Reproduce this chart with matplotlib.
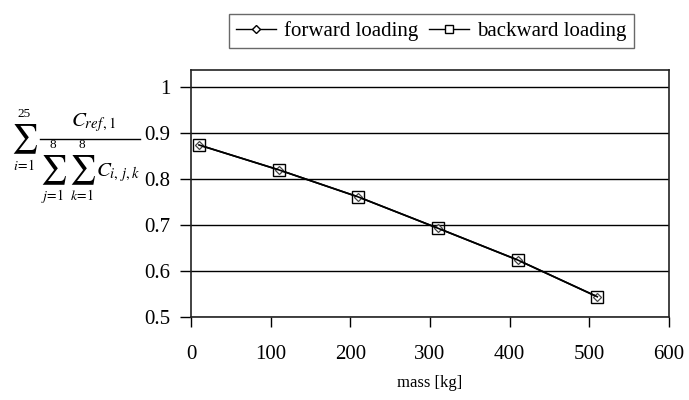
import matplotlib.pyplot as plt
from matplotlib.lines import Line2D

plt.rcParams['font.family'] = ['Liberation Serif', 'DejaVu Serif']
plt.rcParams['mathtext.fontset'] = 'stix'

# mass [kg]
mass = [10, 110, 210, 310, 410, 510]
# ratio for both loading directions (curves lie on top of each other)
forward = [0.874, 0.820, 0.761, 0.693, 0.624, 0.544]
backward = [0.874, 0.820, 0.761, 0.693, 0.624, 0.544]

xticks = [0, 100, 200, 300, 400, 500, 600]
yticks = [0.5, 0.6, 0.7, 0.8, 0.9, 1.0]
ytick_labels = ['0.5', '0.6', '0.7', '0.8', '0.9', '1']

W, H = 689, 400
fig = plt.figure(figsize=(W / 100, H / 100), dpi=100)
ax = fig.add_axes([0.2772, 0.2075, 0.6938, 0.6175])

ax.plot(mass, forward, color='black', lw=1.2, marker='D', ms=4.5,
        mfc='white', mec='#444444', mew=0.9, zorder=3)
ax.plot(mass, backward, color='black', lw=1.2, marker='s', ms=8,
        mfc='none', mec='black', mew=1.0, zorder=4)

ax.set_xlim(0, 600)
ax.set_ylim(0.5, 1.037)
ax.set_xticks(xticks)
ax.set_xticklabels([str(v) for v in xticks])
ax.set_yticks(yticks)
ax.set_yticklabels(ytick_labels)

ax.yaxis.grid(True, color='black', lw=1.0)
ax.set_axisbelow(True)
for s in ax.spines.values():
    s.set_linewidth(1.2)
    s.set_color('#222222')

ax.tick_params(axis='x', direction='out', length=7, width=1, pad=13, labelsize=15)
ax.tick_params(axis='y', direction='out', length=8, width=1, pad=7, labelsize=15)

ax.set_xlabel('mass [kg]', fontsize=12, labelpad=8)


# y-axis label: the formula is put together from pieces (pixel positions)
def put(px, py, s, size, **kw):
    fig.text(px / W, 1 - py / H, s, fontsize=size, ha='center', va='center', **kw)


put(24, 139, r'$\sum$', 21)
put(24.5, 114, '25', 9.5)
put(24, 166, r'$i\!=\!1$', 10)
put(94, 123, r'$C_{ref\,,1}$', 15)
fig.add_artist(Line2D([40 / W, 140 / W], [1 - 139 / H, 1 - 139 / H],
                      color='black', lw=1.0))
put(53, 170, r'$\sum$', 21)
put(53, 145, '8', 9.5)
put(53, 196, r'$j\!=\!1$', 10)
put(82, 170, r'$\sum$', 21)
put(82, 145, '8', 9.5)
put(82, 196, r'$k\!=\!1$', 10)
fig.text(96 / W, 1 - 173 / H, r'$C_{i,\,j,k}$', fontsize=15, ha='left', va='center')

handles = [
    Line2D([], [], color='black', lw=1.0, marker='D', ms=4, mfc='white', mec='black'),
    Line2D([], [], color='black', lw=1.0, marker='s', ms=6, mfc='white', mec='black'),
]
leg = fig.legend(handles, ['forward loading', 'backward loading'],
                 loc='center', bbox_to_anchor=(0.626, 1 - 31 / H), ncol=2,
                 fontsize=15, frameon=True, fancybox=False, handlelength=1.9,
                 handletextpad=0.4, columnspacing=0.5, borderpad=0.35,
                 edgecolor='#444444')
leg.get_frame().set_linewidth(1.0)

fig.savefig('out.png', dpi=100)
